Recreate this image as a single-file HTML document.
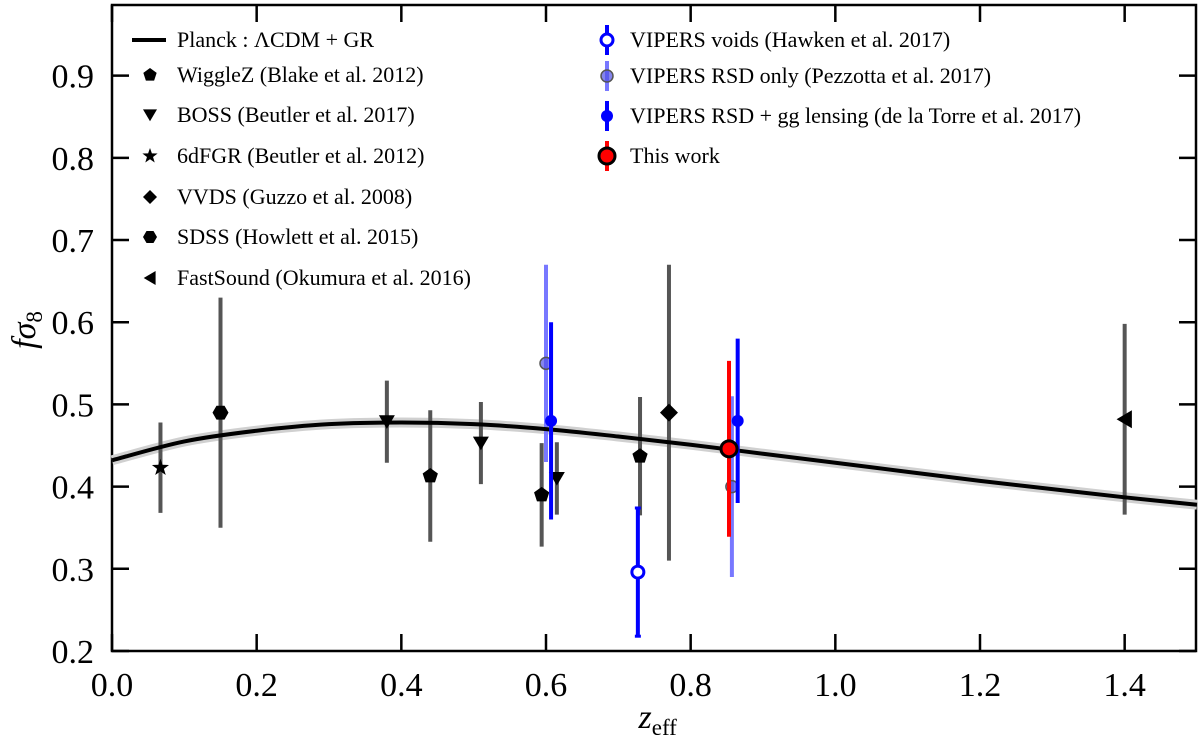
<!DOCTYPE html>
<html><head><meta charset="utf-8">
<style>
body{margin:0;background:#fff;}
svg text{font-family:"Liberation Serif","DejaVu Serif",serif;fill:#000;}
</style></head>
<body>
<svg id="chart" width="1200" height="739" viewBox="0 0 1200 739" xmlns="http://www.w3.org/2000/svg">
<g id="grid"></g>
<g id="marks"></g>
<g id="legend"></g>
</svg>
<script>
// ---- data ----
const curveZ = [0,0.1,0.2,0.3,0.4,0.5,0.6,0.7,0.8,0.9,1.0,1.1,1.2,1.3,1.4,1.5];
const curveF = [0.432,0.455,0.468,0.476,0.478,0.476,0.470,0.461,0.451,0.440,0.429,0.418,0.407,0.397,0.387,0.378];
const sixdfZ=[0.067], sixdfF=[0.423], sixdfE=[0.055];
const sdssZ=[0.15], sdssF=[0.49], sdssE=[0.14];
const bossZ=[0.38,0.51,0.615], bossF=[0.479,0.453,0.410], bossE=[0.05,0.05,0.044];
const wigZ=[0.44,0.594,0.73], wigF=[0.413,0.390,0.437], wigE=[0.08,0.063,0.072];
const vvdsZ=[0.77], vvdsF=[0.49], vvdsE=[0.18];
const fsZ=[1.4], fsF=[0.482], fsE=[0.116];
const voidZ=[0.727], voidF=[0.296], voidE=[0.078];
const rsdZ=[0.60,0.857], rsdF=[0.55,0.40], rsdE=[0.12,0.11];
const ggZ=[0.607,0.865], ggF=[0.48,0.48], ggE=[0.12,0.1];
const thisZ=[0.853], thisF=[0.446], thisE=[0.107];
const xTicks=[0.0,0.2,0.4,0.6,0.8,1.0,1.2,1.4];
const yTicks=[0.2,0.3,0.4,0.5,0.6,0.7,0.8,0.9];

const X0=112,X1=1197,Y0=651,Y1=5,ZMIN=0,ZMAX=1.5,FMIN=0.2,FMAX=0.986;
const sx=z=>X0+(z-ZMIN)/(ZMAX-ZMIN)*(X1-X0);
const sy=f=>Y0-(f-FMIN)/(FMAX-FMIN)*(Y0-Y1);
const NS="http://www.w3.org/2000/svg";
function mk(tag,attrs,parent){const e=document.createElementNS(NS,tag);for(const k in attrs)e.setAttribute(k,attrs[k]);parent.appendChild(e);return e;}
const grid=document.getElementById('grid'),marks=document.getElementById('marks'),leg=document.getElementById('legend');

let fr=mk('rect',{x:X0,y:Y1,width:X1-X0-1,height:Y0-Y1,fill:'none',stroke:'#000','stroke-width':2.5},grid);


xTicks.forEach(t=>{
  const l=mk('line',{x1:sx(t),x2:sx(t),y1:Y0,y2:Y0-17,stroke:'#000','stroke-width':2.5},grid);
  
  
  mk('line',{x1:sx(t),x2:sx(t),y1:Y1,y2:Y1+17,stroke:'#000','stroke-width':2.5},grid);
  const tx=mk('text',{x:sx(t),y:Y0+45,'font-size':34,'text-anchor':'middle'},grid);tx.textContent=t.toFixed(1);
  
  
});
yTicks.forEach(t=>{
  const l=mk('line',{x1:X0,x2:X0+17,y1:sy(t),y2:sy(t),stroke:'#000','stroke-width':2.5},grid);
  
  
  mk('line',{x1:X1-1,x2:X1-18,y1:sy(t),y2:sy(t),stroke:'#000','stroke-width':2.5},grid);
  const tx=mk('text',{x:X0-18,y:sy(t)+12,'font-size':34,'text-anchor':'end'},grid);tx.textContent=t.toFixed(1);
  
  
});
let xt=mk('text',{x:sx(0.75)-16,y:728,'font-size':34,'font-style':'italic'},grid);xt.innerHTML='z<tspan font-size="23" font-style="normal" dy="7">eff</tspan>';


let yt=mk('text',{x:0,y:0,'font-size':34,'font-style':'italic',transform:'translate(35,330) rotate(-90)','text-anchor':'middle'},grid);yt.innerHTML='fσ<tspan font-size="23" font-style="normal" dy="7">8</tspan>';



// smooth path helper (Catmull-Rom)
function smooth(pts){
  let d='M'+pts[0][0]+','+pts[0][1];
  for(let i=0;i<pts.length-1;i++){
    const p0=pts[Math.max(0,i-1)],p1=pts[i],p2=pts[i+1],p3=pts[Math.min(pts.length-1,i+2)];
    const c1=[p1[0]+(p2[0]-p0[0])/6,p1[1]+(p2[1]-p0[1])/6];
    const c2=[p2[0]-(p3[0]-p1[0])/6,p2[1]-(p3[1]-p1[1])/6];
    d+='C'+c1.join(',')+' '+c2.join(',')+' '+p2.join(',');
  }
  return d;
}
const cpts=curveZ.map((z,i)=>[sx(z),sy(curveF[i])]);
let band=mk('path',{d:smooth(cpts),fill:'none',stroke:'#d0d0d0','stroke-width':10},marks);



function marker(type,cx,cy,s,fill,stroke,sw,op){
  let e;
  if(type==='circle')e=mk('circle',{cx,cy,r:s,fill,stroke,'stroke-width':sw,opacity:op},marks);
  else{
    let pts;
    if(type==='pent'){pts=[];for(let k=0;k<5;k++){const a=-Math.PI/2+k*2*Math.PI/5;pts.push([cx+s*Math.cos(a),cy+s*Math.sin(a)]);}}
    else if(type==='hex'){pts=[];for(let k=0;k<6;k++){const a=k*Math.PI/3;pts.push([cx+s*Math.cos(a),cy+s*Math.sin(a)]);}}
    else if(type==='tri'){pts=[[cx-s,cy-s*0.8],[cx+s,cy-s*0.8],[cx,cy+s*0.9]];}
    else if(type==='left'){pts=[[cx+s*0.8,cy-s],[cx+s*0.8,cy+s],[cx-s*0.9,cy]];}
    else if(type==='diamond'){pts=[[cx,cy-s],[cx+s,cy],[cx,cy+s],[cx-s,cy]];}
    else if(type==='star'){pts=[];for(let k=0;k<10;k++){const r=k%2?s*0.4:s;const a=-Math.PI/2+k*Math.PI/5;pts.push([cx+r*Math.cos(a),cy+r*Math.sin(a)]);}}
    e=mk('polygon',{points:pts.map(p=>p.join(',')).join(' '),fill,stroke,'stroke-width':sw,opacity:op},marks);
  }
  return e;
}
function series(name,Z,F,E,type,s,ecol,ew,eop,mfill,mstroke,msw,mop,cap){
  Z.forEach((z,i)=>{
    const x=sx(z);
    const el=mk('line',{x1:x,x2:x,y1:sy(F[i]-E[i]),y2:sy(F[i]+E[i]),stroke:ecol,'stroke-width':ew,opacity:eop},marks);
    
    
    if(cap){[F[i]-E[i],F[i]+E[i]].forEach(v=>{mk('line',{x1:x-3,x2:x+3,y1:sy(v),y2:sy(v),stroke:ecol,'stroke-width':3,opacity:eop},marks);});}
    const m=marker(type,x,sy(F[i]),s,mfill,mstroke,msw,mop);
    
    
  });
}
const G='#555';
series('6dfgr',sixdfZ,sixdfF,sixdfE,'star',9,G,4,1,'#000','none',0,1);
series('sdss',sdssZ,sdssF,sdssE,'hex',8,G,4,1,'#000','none',0,1);
series('boss',bossZ,bossF,bossE,'tri',8,G,4,1,'#000','none',0,1);
series('wigglez',wigZ,wigF,wigE,'pent',8,G,4,1,'#000','none',0,1);
series('vvds',vvdsZ,vvdsF,vvdsE,'diamond',9,G,4,1,'#000','none',0,1);
series('fastsound',fsZ,fsF,fsE,'left',9,G,4,1,'#000','none',0,1);
series('vipers-rsd-only',rsdZ,rsdF,rsdE,'circle',6,'#7878ff',4,1,'rgba(80,80,230,0.7)','#555',1.5,1);

let cp=mk('path',{d:smooth(cpts),fill:'none',stroke:'#000','stroke-width':4},marks);



series('vipers-voids',voidZ,voidF,voidE,'circle',6,'#0000ff',4,1,'#fff','#0000ff',3,1,true);
series('vipers-rsd-gg',ggZ,ggF,ggE,'circle',6,'#0000ff',4,1,'#0000ff','none',0,1);
series('this-work',thisZ,thisF,thisE,'circle',8,'#ff0000',4,1,'#ff0000','#000',3,1);

function legItem(name,x,y,label,draw){
  const g=mk('g',{},leg);
  
  
  draw(g);
  const t=mk('text',{x:x,y:y+7,'font-size':22},g);t.textContent=label;
}
const Lx=145,Ly=[40,75,115,156,197,237,278];
legItem('legend-planck',177,Ly[0],'Planck :  ΛCDM  +  GR',g=>mk('line',{x1:132,x2:166,y1:Ly[0],y2:Ly[0],stroke:'#000','stroke-width':4},g));
const lmk=[['wigglez','pent','WiggleZ (Blake et al. 2012)',7],['boss','tri','BOSS (Beutler et al. 2017)',7],['6dfgr','star','6dFGR (Beutler et al. 2012)',8],['vvds','diamond','VVDS (Guzzo et al. 2008)',7],['sdss','hex','SDSS (Howlett et al. 2015)',7],['fastsound','left','FastSound (Okumura et al. 2016)',7]];
lmk.forEach((d,i)=>legItem('legend-'+d[0],177,Ly[i+1],d[2],g=>{const m=marker(d[1],Lx+5,Ly[i+1],d[3],'#000','none',0,1);g.appendChild(m);}));
const Ry=[40,76,116,156];
legItem('legend-vipers-voids',630,Ry[0],'VIPERS voids (Hawken et al. 2017)',g=>{mk('line',{x1:607,x2:607,y1:Ry[0]-15,y2:Ry[0]+15,stroke:'#0000ff','stroke-width':4},g);mk('circle',{cx:607,cy:Ry[0],r:6,fill:'#fff',stroke:'#0000ff','stroke-width':3},g);});
legItem('legend-vipers-rsd-only',630,Ry[1],'VIPERS RSD only (Pezzotta et al. 2017)',g=>{mk('line',{x1:607,x2:607,y1:Ry[1]-15,y2:Ry[1]+15,stroke:'#7878ff','stroke-width':4},g);mk('circle',{cx:607,cy:Ry[1],r:6,fill:'rgba(80,80,230,0.7)',stroke:'#555','stroke-width':1.5},g);});
legItem('legend-vipers-rsd-gg',630,Ry[2],'VIPERS RSD + gg lensing (de la Torre et al. 2017)',g=>{mk('line',{x1:607,x2:607,y1:Ry[2]-15,y2:Ry[2]+15,stroke:'#0000ff','stroke-width':4},g);mk('circle',{cx:607,cy:Ry[2],r:6,fill:'#0000ff'},g);});
legItem('legend-this-work',630,Ry[3],'This work',g=>{mk('line',{x1:607,x2:607,y1:Ry[3]-15,y2:Ry[3]+15,stroke:'#ff0000','stroke-width':4},g);mk('circle',{cx:607,cy:Ry[3],r:8,fill:'#ff0000',stroke:'#000','stroke-width':3},g);});
</script>
</body></html>
